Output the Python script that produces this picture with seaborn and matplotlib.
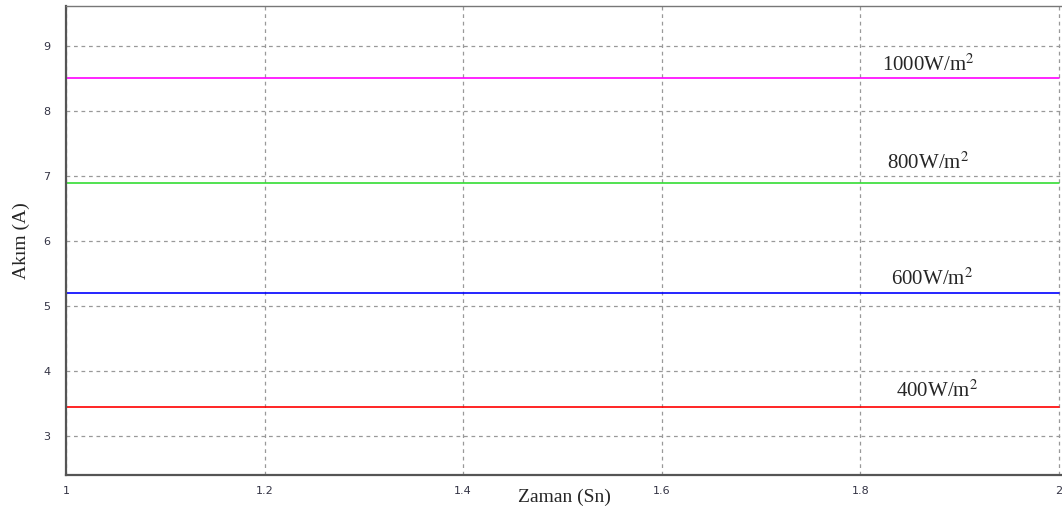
import seaborn as sns
import matplotlib.pyplot as plt
import pandas as pd
import numpy as np

# irradiance levels and their steady-state currents
levels = ['1000W/m$^2$', '800W/m$^2$', '600W/m$^2$', '400W/m$^2$']
currents = [8.51, 6.89, 5.20, 3.45]
colors = ['#ff00ff', '#33dd33', '#0000ff', '#ff0000']
time = [1.0, 1.25, 1.5, 1.75, 2.0]
xticks = [1, 1.2, 1.4, 1.6, 1.8, 2]
xticklabels = ['1', '1.2', '1.4', '1.6', '1.8', '2']
yticks = [3, 4, 5, 6, 7, 8, 9]

rows = []
for lev, cur in zip(levels, currents):
    for t in time:
        rows.append({'t': t, 'I': cur, 'level': lev})
df = pd.DataFrame(rows)

sns.set_style('white')
plt.rcParams['mathtext.fontset'] = 'stix'
fig = plt.figure(figsize=(10.62, 5.11), dpi=100)
ax = fig.add_axes([0.0621, 0.0705, 0.9379, 0.9178])

sns.lineplot(data=df, x='t', y='I', hue='level', palette=dict(zip(levels, colors)),
             linewidth=1.2, legend=False, ax=ax)

ax.set_xlim(1, 2.003)
ax.set_ylim(2.4, 9.62)
ax.set_xticks(xticks)
ax.set_xticklabels(xticklabels)
ax.set_yticks(yticks)
ax.grid(True, color='#999999', linestyle=(0, (3, 3)), linewidth=0.9)
ax.tick_params(axis='both', length=0, labelsize=8, colors='#333344')
ax.tick_params(axis='x', pad=8)
ax.tick_params(axis='y', pad=11)

for side in ['left', 'bottom']:
    ax.spines[side].set_color('#555555')
    ax.spines[side].set_linewidth(1.6)
ax.spines['top'].set_color('#777777')
ax.spines['top'].set_linewidth(1.0)
ax.spines['right'].set_visible(False)

serif = 'Liberation Serif'
label_pos = [(1.868, 8.62), (1.868, 7.12), (1.872, 5.32), (1.877, 3.605)]
for lev, (x, y) in zip(levels, label_pos):
    ax.text(x, y, lev, fontsize=15, family=serif, ha='center', va='baseline')

ax.set_xlabel('Zaman (Sn)', fontsize=14, family=serif, labelpad=-5)
ax.set_ylabel('Akım (A)', fontsize=14, family=serif, labelpad=10)

plt.savefig('out.png', dpi=100)
